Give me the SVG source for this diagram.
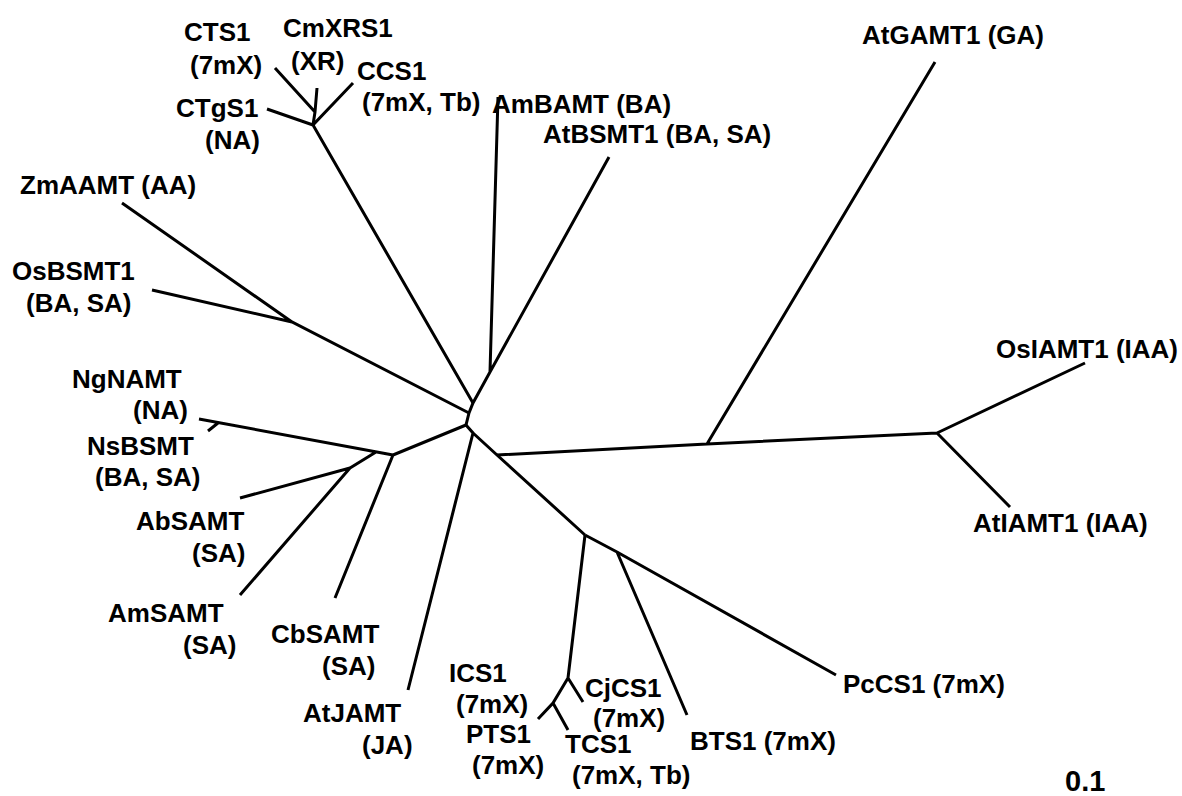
<svg xmlns="http://www.w3.org/2000/svg" width="1182" height="796" viewBox="0 0 1182 796">
<style>
.b{fill:none;stroke:#000;stroke-width:3;stroke-linejoin:miter;stroke-linecap:butt}
text{font-family:"Liberation Sans",Arial,Helvetica,sans-serif;font-weight:bold;font-size:26px;fill:#000}
.s{font-size:29px}
</style>
<rect width="1182" height="796" fill="#fff"/>
<g id="connectors">
<path class="b" d="M275,68 L315,112 M317,88 L315,112 L313,125 M267,109 L313,125 M353,83 L313,125 L473,403"/>
<path class="b" d="M498,97 L490,372 M609,157 L490,372 L473,403 L469,413 L466,425"/>
<path class="b" d="M122,203 L292,322 M152,290 L292,322 L469,413"/>
<path class="b" d="M466,425 L393,455 M199,419 L393,455 M218,423 L208,431 M376,452 L350,468 M240,498 L350,468 M240,595 L350,468 M393,455 L335,598"/>
<path class="b" d="M466,425 L473,433 L408,690 M473,433 L497,455 L585,535"/>
<path class="b" d="M497,455 L707,444 L937,433 M707,444 L935,62 M937,433 L1085,363 M937,433 L1010,507"/>
<path class="b" d="M585,535 L617,552 L836,675 M617,552 L687,715 M585,535 L568,678 L583,702 M568,678 L553,703 L538,719 M553,703 L568,730"/>
</g>
<g id="CTS1"><text x="184" y="41">CTS1</text><text x="190" y="74">(7mX)</text></g>
<g id="CmXRS1"><text x="283" y="37">CmXRS1</text><text x="291" y="70">(XR)</text></g>
<g id="CCS1"><text x="357" y="80">CCS1</text><text x="362" y="111">(7mX, Tb)</text></g>
<g id="CTgS1"><text x="176" y="117">CTgS1</text><text x="205" y="149">(NA)</text></g>
<g id="AmBAMT"><text x="492" y="113">AmBAMT (BA)</text></g>
<g id="AtBSMT1"><text x="543" y="143">AtBSMT1 (BA, SA)</text></g>
<g id="ZmAAMT"><text x="20" y="194">ZmAAMT (AA)</text></g>
<g id="OsBSMT1"><text x="12" y="280">OsBSMT1</text><text x="26" y="312">(BA, SA)</text></g>
<g id="NgNAMT"><text x="72" y="388">NgNAMT</text><text x="133" y="419">(NA)</text></g>
<g id="NsBSMT"><text x="87" y="455">NsBSMT</text><text x="95" y="486">(BA, SA)</text></g>
<g id="AbSAMT"><text x="136" y="530">AbSAMT</text><text x="192" y="562">(SA)</text></g>
<g id="AmSAMT"><text x="108" y="622">AmSAMT</text><text x="183" y="654">(SA)</text></g>
<g id="CbSAMT"><text x="271" y="643">CbSAMT</text><text x="322" y="675">(SA)</text></g>
<g id="AtJAMT"><text x="303" y="722">AtJAMT</text><text x="362" y="754">(JA)</text></g>
<g id="ICS1"><text x="449" y="682">ICS1</text><text x="456" y="713">(7mX)</text></g>
<g id="PTS1"><text x="466" y="743">PTS1</text><text x="472" y="774">(7mX)</text></g>
<g id="CjCS1"><text x="585" y="697">CjCS1</text><text x="593" y="727">(7mX)</text></g>
<g id="TCS1"><text x="565" y="753">TCS1</text><text x="572" y="784">(7mX, Tb)</text></g>
<g id="BTS1"><text x="690" y="750">BTS1 (7mX)</text></g>
<g id="PcCS1"><text x="843" y="693">PcCS1 (7mX)</text></g>
<g id="AtGAMT1"><text x="862" y="44">AtGAMT1 (GA)</text></g>
<g id="OsIAMT1"><text x="996" y="358">OsIAMT1 (IAA)</text></g>
<g id="AtIAMT1"><text x="973" y="532">AtIAMT1 (IAA)</text></g>
<g id="scale"><text class="s" x="1065" y="791">0.1</text></g>
</svg>
